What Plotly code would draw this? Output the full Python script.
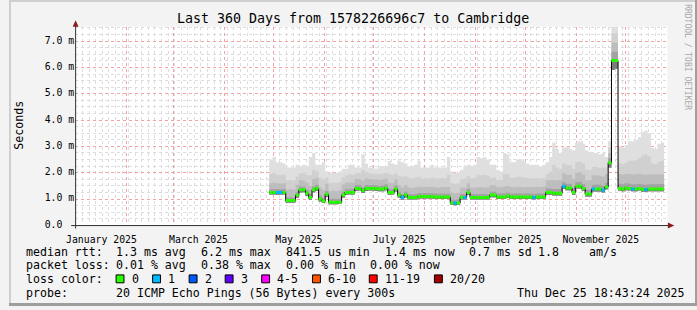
import pandas as pd
import plotly.graph_objects as go

W, H = 697, 310

# ---------------- data (2-day steps) ----------------
dates = pd.date_range("2025-04-28 12:00", periods=121, freq="2D")

median = [
    1.25, 1.25, 1.25, 1.25, 1.25, 0.94, 0.94, 0.94, 1.15, 1.35,
    1.35, 1.22, 1.06, 1.35, 1.41, 1.00, 0.93, 1.18, 0.88, 0.88,
    0.88, 0.88, 1.15, 1.25, 1.25, 1.25, 1.40, 1.40, 1.32, 1.40,
    1.40, 1.40, 1.40, 1.38, 1.38, 1.42, 1.25, 1.25, 1.38, 1.15,
    1.06, 1.15, 1.06, 1.06, 1.06, 1.10, 1.10, 1.10, 1.10, 1.10,
    1.08, 1.08, 1.08, 1.08, 1.08, 0.85, 0.85, 0.85, 1.06, 1.06,
    1.25, 1.06, 1.06, 1.06, 1.06, 1.06, 1.06, 1.15, 1.15, 1.08,
    1.08, 1.08, 1.12, 1.08, 1.08, 1.08, 1.08, 1.08, 1.08, 1.08,
    1.06, 1.08, 1.08, 1.08, 1.25, 1.25, 1.22, 1.22, 1.22, 1.49,
    1.42, 1.42, 1.25, 1.49, 1.49, 1.40, 1.19, 1.19, 1.38, 1.38,
    1.38, 1.34, 1.46, 2.38, 6.26, 6.26, 1.40, 1.38, 1.42, 1.40,
    1.38, 1.38, 1.40, 1.36, 1.36, 1.38, 1.38, 1.38, 1.38, 1.38, 1.38,
]

loss = [0] * 121
for k in (2, 3, 40, 56, 59, 80, 89, 98, 101, 110, 114):
    loss[k] = 1

smoke_min = [
    1.17, 1.17, 1.16, 1.17, 1.17, 0.86, 0.86, 0.87, 1.05, 1.25,
    1.26, 1.12, 0.97, 1.26, 1.31, 0.91, 0.85, 1.08, 0.80, 0.80,
    0.80, 0.81, 1.06, 1.16, 1.17, 1.17, 1.31, 1.32, 1.23, 1.31,
    1.32, 1.32, 1.31, 1.30, 1.30, 1.33, 1.16, 1.17, 1.29, 1.06,
    0.97, 1.06, 0.98, 0.98, 0.98, 1.02, 1.02, 1.02, 1.02, 1.02,
    1.00, 1.00, 1.00, 1.00, 1.00, 0.77, 0.76, 0.77, 0.98, 0.98,
    1.16, 0.98, 0.98, 0.98, 0.98, 0.98, 0.98, 1.07, 1.07, 1.00,
    1.00, 1.00, 1.04, 1.00, 1.00, 1.00, 1.00, 1.00, 1.00, 1.00,
    0.98, 1.00, 1.00, 1.00, 1.16, 1.16, 1.13, 1.13, 1.13, 1.39,
    1.33, 1.33, 1.16, 1.40, 1.40, 1.31, 1.10, 1.10, 1.29, 1.29,
    1.29, 1.25, 1.37, 2.20, 5.90, 5.95, 1.32, 1.30, 1.33, 1.32,
    1.30, 1.30, 1.32, 1.28, 1.28, 1.30, 1.30, 1.30, 1.30, 1.30, 1.30,
]

smoke_p60 = [
    1.37, 1.38, 1.38, 1.37, 1.38, 1.06, 1.07, 1.06, 1.28, 1.48,
    1.47, 1.35, 1.19, 1.48, 1.54, 1.13, 1.06, 1.31, 1.00, 1.01,
    1.00, 1.01, 1.28, 1.38, 1.37, 1.38, 1.53, 1.52, 1.45, 1.53,
    1.52, 1.53, 1.52, 1.50, 1.51, 1.55, 1.38, 1.37, 1.51, 1.28,
    1.19, 1.28, 1.19, 1.18, 1.19, 1.23, 1.22, 1.23, 1.23, 1.22,
    1.21, 1.20, 1.21, 1.21, 1.20, 0.98, 0.97, 0.98, 1.19, 1.18,
    1.38, 1.19, 1.18, 1.19, 1.19, 1.18, 1.19, 1.28, 1.28, 1.21,
    1.21, 1.22, 1.25, 1.21, 1.21, 1.22, 1.21, 1.21, 1.22, 1.21,
    1.19, 1.21, 1.21, 1.22, 1.40, 1.40, 1.38, 1.38, 1.38, 1.65,
    1.58, 1.58, 1.41, 1.65, 1.66, 1.56, 1.35, 1.35, 1.54, 1.55,
    1.54, 1.50, 1.62, 2.55, 6.60, 6.60, 1.58, 1.56, 1.60, 1.58,
    1.56, 1.56, 1.58, 1.55, 1.54, 1.56, 1.56, 1.56, 1.56, 1.57, 1.56,
]

smoke_p75 = [
    1.60, 1.62, 1.60, 1.58, 1.60, 1.35, 1.38, 1.36, 1.55, 1.72,
    1.70, 1.62, 1.50, 1.75, 1.80, 1.45, 1.35, 1.58, 1.30, 1.32,
    1.30, 1.33, 1.55, 1.62, 1.63, 1.62, 1.76, 1.75, 1.70, 1.78,
    1.76, 1.75, 1.74, 1.72, 1.74, 1.78, 1.62, 1.60, 1.74, 1.52,
    1.45, 1.52, 1.44, 1.42, 1.45, 1.48, 1.46, 1.47, 1.46, 1.47,
    1.45, 1.44, 1.46, 1.45, 1.46, 1.25, 1.22, 1.24, 1.44, 1.43,
    1.60, 1.44, 1.43, 1.45, 1.46, 1.44, 1.45, 1.52, 1.52, 1.45,
    1.45, 1.48, 1.50, 1.46, 1.45, 1.47, 1.46, 1.45, 1.47, 1.46,
    1.45, 1.47, 1.46, 1.48, 1.70, 1.72, 1.72, 1.70, 1.72, 1.98,
    1.92, 1.92, 1.76, 2.00, 2.02, 1.92, 1.70, 1.72, 1.90, 1.90,
    1.88, 1.85, 1.95, 2.75, 6.95, 6.95, 1.95, 1.92, 1.96, 1.95,
    1.93, 1.94, 1.96, 1.93, 1.92, 1.94, 1.93, 1.94, 1.93, 1.94, 1.95,
]

smoke_p90 = [
    1.95, 2.00, 1.92, 1.90, 1.92, 1.70, 1.72, 1.70, 1.85, 1.98,
    2.00, 1.92, 1.90, 2.10, 2.05, 1.80, 1.75, 1.82, 1.62, 1.62,
    1.62, 1.65, 1.82, 1.90, 1.95, 1.92, 1.98, 1.98, 2.10, 2.02,
    1.98, 1.96, 1.95, 1.95, 1.96, 2.00, 1.95, 1.90, 1.98, 1.88,
    1.85, 1.86, 1.80, 1.78, 1.82, 1.85, 1.78, 1.80, 1.78, 1.82,
    1.78, 1.78, 1.80, 1.78, 1.92, 1.60, 1.58, 1.60, 1.75, 1.78,
    1.88, 1.78, 1.80, 1.92, 1.90, 1.92, 1.88, 1.80, 1.82, 1.72,
    1.72, 1.95, 1.95, 1.80, 1.80, 1.85, 1.85, 1.82, 1.80, 1.78,
    1.78, 1.80, 1.78, 1.80, 1.95, 2.05, 2.30, 2.20, 2.12, 2.35,
    2.30, 2.28, 2.15, 2.40, 2.42, 2.35, 2.12, 2.10, 2.22, 2.22,
    2.18, 2.20, 2.20, 2.95, 7.30, 7.30, 2.35, 2.32, 2.38, 2.45,
    2.45, 2.48, 2.55, 2.65, 2.70, 2.62, 2.35, 2.32, 2.42, 2.45, 2.48,
]

smoke_max = [
    2.50, 2.60, 2.40, 2.40, 2.35, 2.20, 2.20, 2.20, 2.30, 2.25,
    2.30, 2.25, 2.60, 2.75, 2.30, 2.30, 2.40, 2.05, 2.00, 2.00,
    2.00, 2.05, 2.15, 2.15, 2.30, 2.30, 2.20, 2.20, 2.70, 2.35,
    2.20, 2.20, 2.15, 2.25, 2.25, 2.25, 2.45, 2.35, 2.30, 2.45,
    2.40, 2.35, 2.25, 2.25, 2.30, 2.45, 2.20, 2.20, 2.20, 2.30,
    2.20, 2.20, 2.20, 2.20, 2.60, 2.05, 2.00, 2.00, 2.10, 2.25,
    2.30, 2.25, 2.30, 2.60, 2.55, 2.60, 2.50, 2.30, 2.30, 2.10,
    2.05, 2.75, 2.70, 2.40, 2.40, 2.50, 2.50, 2.45, 2.35, 2.30,
    2.30, 2.30, 2.25, 2.30, 2.40, 2.60, 3.15, 2.90, 2.75, 2.95,
    3.00, 2.90, 2.85, 3.15, 3.20, 3.10, 2.85, 2.80, 2.75, 2.75,
    2.70, 2.75, 2.60, 3.20, 7.55, 7.55, 3.00, 2.95, 3.05, 3.20,
    3.20, 3.25, 3.35, 3.55, 3.60, 3.50, 2.95, 2.90, 3.10, 3.15, 3.20,
]

y_ticks = [0, 1, 2, 3, 4, 5, 6, 7]
y_labels = ["0.0\u00a0\u00a0", "1.0 m", "2.0 m", "3.0 m", "4.0 m", "5.0 m", "6.0 m", "7.0 m"]

loss_colors = {0: "#26ff00", 1: "#00b8ff"}
legend_swatches = [("0", "#26ff00"), ("1", "#00b8ff"), ("2", "#0059ff"), ("3", "#5e00ff"),
                   ("4-5", "#ff00ff"), ("6-10", "#ff5500"), ("11-19", "#ff0000"), ("20/20", "#a10000")]

# ---------------- helpers ----------------
def fx(p):
    return p / W


def fy(p):
    return 1 - p / H


MONO = "DejaVu Sans Mono"
fig = go.Figure()

# smoke bands
bands = [(smoke_max, "#dfdfdf"), (smoke_p90, "#d0d0d0"), (smoke_p75, "#bdbdbd"),
         (smoke_p60, "#a2a2a2"), (median, "#7c7c7c")]
for top, col in bands:
    fig.add_trace(go.Scatter(x=dates, y=smoke_min, mode="lines", line=dict(width=0, shape="hv"),
                             hoverinfo="skip", showlegend=False))
    fig.add_trace(go.Scatter(x=dates, y=top, mode="lines", line=dict(width=0, shape="hv"),
                             fill="tonexty", fillcolor=col, hoverinfo="skip", showlegend=False))

# median (black step line) and loss-coloured segments
fig.add_trace(go.Scatter(x=dates, y=median, mode="lines", line=dict(width=1, color="#000000", shape="hv"),
                         hoverinfo="skip", showlegend=False))
segs = {0: ([], []), 1: ([], [])}
for i in range(len(dates) - 1):
    xs, ys = segs[loss[i]]
    xs += [dates[i], dates[i + 1], None]
    ys += [median[i], median[i], None]
for k, (xs, ys) in segs.items():
    fig.add_trace(go.Scatter(x=xs, y=ys, mode="lines", line=dict(width=3, color=loss_colors[k]),
                             hoverinfo="skip", showlegend=False, connectgaps=False))

# ---------------- axes ----------------
MAJOR = "#f4a2a2"
MINOR = "#dddddd"
y_minor = [q / 4 for q in range(1, 31) if q % 4]
fig.update_layout(
    width=W, height=H, margin=dict(l=0, r=0, t=0, b=0),
    paper_bgcolor="#f3f3f3", plot_bgcolor="#ffffff", showlegend=False,
    font=dict(family=MONO, color="#000000"),
    xaxis=dict(
        type="date", domain=[fx(67), fx(667)],
        range=["2024-12-31 12:00", "2025-12-26 12:00"],
        tickmode="linear", tick0="2025-01-01", dtick="M1",
        ticklabelmode="period", ticklabelstep=2, tickformat="%B %Y",
        tickfont=dict(family=MONO, size=9.8, color="#000000"),
        ticks="", ticklabelstandoff=7, showline=False, zeroline=False,
        showgrid=True, gridcolor=MAJOR, gridwidth=1, griddash="dot",
        minor=dict(tickmode="linear", tick0="2025-01-05", dtick=4 * 86400000,
                   showgrid=True, gridcolor=MINOR, gridwidth=1, griddash="dot", ticks=""),
        layer="above traces",
        fixedrange=True,
    ),
    yaxis=dict(
        domain=[fy(228.3), fy(27)], range=[0, 7.55],
        tickmode="array", tickvals=y_ticks, ticktext=y_labels,
        tickfont=dict(family=MONO, size=9.8, color="#000000"),
        ticks="", ticklabelshift=-1, showline=False, zeroline=False,
        showgrid=True, gridcolor=MAJOR, gridwidth=1, griddash="dot",
        minor=dict(tickmode="array", tickvals=y_minor, showgrid=True,
                   gridcolor=MINOR, gridwidth=1, griddash="dot", ticks=""),
        layer="above traces",
        fixedrange=True,
    ),
)

# ---------------- shapes: frame, axes, arrows, legend boxes ----------------
shapes = []
# canvas shading
shapes.append(dict(type="rect", xref="paper", yref="paper", x0=0, x1=1, y0=fy(2), y1=1,
                   fillcolor="#cfcfcf", line=dict(width=0), layer="above"))
shapes.append(dict(type="rect", xref="paper", yref="paper", x0=0, x1=fx(2), y0=0, y1=1,
                   fillcolor="#cfcfcf", line=dict(width=0), layer="above"))
shapes.append(dict(type="rect", xref="paper", yref="paper", x0=0, x1=1, y0=0, y1=fy(307),
                   fillcolor="#9e9e9e", line=dict(width=0), layer="above"))
shapes.append(dict(type="rect", xref="paper", yref="paper", x0=fx(695), x1=1, y0=0, y1=1,
                   fillcolor="#9e9e9e", line=dict(width=0), layer="above"))
# axis lines
shapes.append(dict(type="line", xref="paper", yref="paper", x0=fx(67.5), x1=fx(67.5), y0=fy(231.5), y1=fy(25),
                   line=dict(color="#303030", width=1), layer="above"))
shapes.append(dict(type="line", xref="paper", yref="paper", x0=fx(63), x1=fx(669), y0=fy(228.5), y1=fy(228.5),
                   line=dict(color="#303030", width=1), layer="above"))
# arrows
shapes.append(dict(type="path", xref="paper", yref="paper",
                   path=f"M {fx(67.5)} {fy(20.5)} L {fx(64.5)} {fy(27)} L {fx(70.5)} {fy(27)} Z",
                   fillcolor="#8b1c1c", line=dict(width=0), layer="above"))
shapes.append(dict(type="path", xref="paper", yref="paper",
                   path=f"M {fx(674)} {fy(228.5)} L {fx(667.5)} {fy(225.5)} L {fx(667.5)} {fy(231.5)} Z",
                   fillcolor="#8b1c1c", line=dict(width=0), layer="above"))

# ---------------- texts ----------------
ann = []


def text(x, y, s, size=11.6, color="#000000", xanchor="left", angle=0):
    ann.append(dict(x=fx(x), y=fy(y), xref="paper", yref="paper", text=s, showarrow=False,
                    xanchor=xanchor, yanchor="middle", borderpad=0, textangle=angle,
                    font=dict(family=MONO, size=size, color=color)))


text(348.5, 19, "Last 360 Days from 1578226696c7 to Cambridge", size=13.3, xanchor="center")
text(10.5, 127, "Seconds", xanchor="center", angle=-90)
text(688, 58, "RRDTOOL / TOBI OETIKER", size=8, color="#a8a8a8", xanchor="center", angle=90)

row1 = [(16, "median rtt:"), (107.3, "1.3 ms avg"), (193.3, "6.2 ms max"), (279.3, "841.5 us min"),
        (380, "1.4 ms now"), (465, "0.7 ms sd"), (535, "1.8"), (586.7, "am/s")]
row2 = [(16, "packet loss:"), (107.3, "0.01 % avg"), (193.3, "0.38 % max"), (279.3, "0.00 % min"),
        (365, "0.00 % now")]
row4 = [(16, "probe:"), (107.3, "20 ICMP Echo Pings (56 Bytes) every 300s"), (513.3, "Thu Dec 25 18:43:24 2025")]
for x, s in row1:
    text(x, 255, s)
for x, s in row2:
    text(x, 268.5, s)
for x, s in row4:
    text(x, 296.5, s)
text(16, 282.5, "loss color:")
box_x = [108.5, 145.5, 182.5, 219, 256, 307.5, 365, 431]
for bx, (lab, col) in zip(box_x, legend_swatches):
    shapes.append(dict(type="rect", xref="paper", yref="paper", x0=fx(bx), x1=fx(bx + 8),
                       y0=fy(286.5), y1=fy(278.5), fillcolor=col, line=dict(color="#000000", width=1),
                       layer="above"))
    text(bx + 14.7, 282.5, lab)

fig.update_layout(shapes=shapes, annotations=ann)
fig.write_html("out.html")
